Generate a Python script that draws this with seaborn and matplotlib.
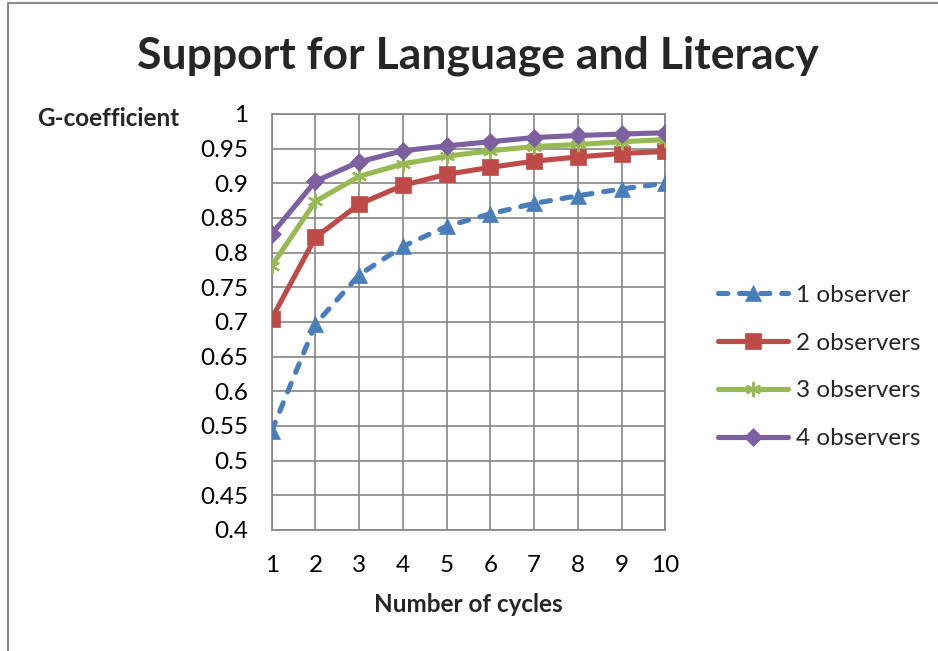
import numpy as np
import matplotlib
matplotlib.use("Agg")
import matplotlib.pyplot as plt
from matplotlib.lines import Line2D
import seaborn as sns
import pandas as pd

# values
cycles = [1, 2, 3, 4, 5, 6, 7, 8, 9, 10]
obs1 = [0.543, 0.697, 0.768, 0.809, 0.838, 0.856, 0.871, 0.882, 0.892, 0.900]
obs2 = [0.705, 0.822, 0.870, 0.897, 0.913, 0.923, 0.932, 0.938, 0.943, 0.946]
obs3 = [0.781, 0.874, 0.910, 0.928, 0.939, 0.947, 0.953, 0.956, 0.960, 0.963]
obs4 = [0.827, 0.903, 0.931, 0.947, 0.954, 0.960, 0.966, 0.969, 0.971, 0.973]
series_names = ["1 observer", "2 observers", "3 observers", "4 observers"]
yticks = [0.4, 0.45, 0.5, 0.55, 0.6, 0.65, 0.7, 0.75, 0.8, 0.85, 0.9, 0.95, 1.0]
ytick_labels = ["0.4", "0.45", "0.5", "0.55", "0.6", "0.65", "0.7", "0.75",
                "0.8", "0.85", "0.9", "0.95", "1"]

sns.set_style("white")
plt.rcParams['font.family'] = ['Lato', 'DejaVu Sans']

df = pd.DataFrame({
    'cycles': cycles * 4,
    'g': obs1 + obs2 + obs3 + obs4,
    'series': np.repeat(series_names, len(cycles)),
})

colors = ['#4A7EBB', '#BE4B48', '#98B954', '#7D60A0']
markers = ['^', 's', (6, 2, 0), 'D']
msizes = [12, 11, 11, 9.5]
styles = [(0, (1.8, 2.3)), '-', '-', '-']
fs = 17.5

fig = plt.figure(figsize=(9.38, 6.51), dpi=100)
ax = fig.add_axes([0.2897, 0.1859, 0.4196, 0.639])

for name, col, mk, ms, ls in zip(series_names, colors, markers, msizes, styles):
    sub = df[df['series'] == name]
    sns.lineplot(data=sub, x='cycles', y='g', ax=ax, color=col, marker=mk,
                 markersize=ms, linewidth=3.7, linestyle=ls,
                 markeredgecolor=col, markeredgewidth=1.6 if mk == (6, 2, 0) else 0.5,
                 dash_capstyle='round', solid_capstyle='round',
                 label=name, zorder=3)

ax.set_xlim(1, 10)
ax.set_ylim(0.4, 1.0)
ax.set_xticks(cycles)
ax.set_xticklabels([str(c) for c in cycles])
ax.set_yticks(yticks)
ax.set_yticklabels(ytick_labels)
ax.grid(True, color='#868686', linewidth=1.2)
for sp in ax.spines.values():
    sp.set_color('#868686')
    sp.set_linewidth(1.2)
ax.tick_params(axis='both', which='both', direction='out', length=6,
               width=1.2, color='#868686', labelsize=fs, labelcolor='black')
ax.tick_params(axis='y', pad=11)
ax.tick_params(axis='x', pad=12)
ax.set_xlabel('')
ax.set_ylabel('')

fig.text(478 / 938, 1 - 56 / 651, 'Support for Language and Literacy',
         ha='center', va='center', fontsize=32, fontweight='bold')
fig.text(179 / 938, 1 - 118 / 651, 'G-coefficient', ha='right', va='center',
         fontsize=fs, fontweight='bold')
fig.text(468 / 938, 1 - 605 / 651, 'Number of cycles', ha='center', va='center',
         fontsize=fs, fontweight='bold')

ax.legend(loc='center left', bbox_to_anchor=(718 / 938, 1 - 367 / 651),
          bbox_transform=fig.transFigure, frameon=False, fontsize=fs,
          handlelength=2.9, handletextpad=0.3, labelspacing=1.1, borderpad=0,
          borderaxespad=0)

# chart area border (left and top only visible)
fig.add_artist(Line2D([8 / 938, 8 / 938], [0, 1 - 3 / 651], color='#8a8a8a',
                      linewidth=1.5, transform=fig.transFigure))
fig.add_artist(Line2D([8 / 938, 1], [1 - 3 / 651, 1 - 3 / 651], color='#8a8a8a',
                      linewidth=1.5, transform=fig.transFigure))

fig.savefig('out.png', dpi=100)
